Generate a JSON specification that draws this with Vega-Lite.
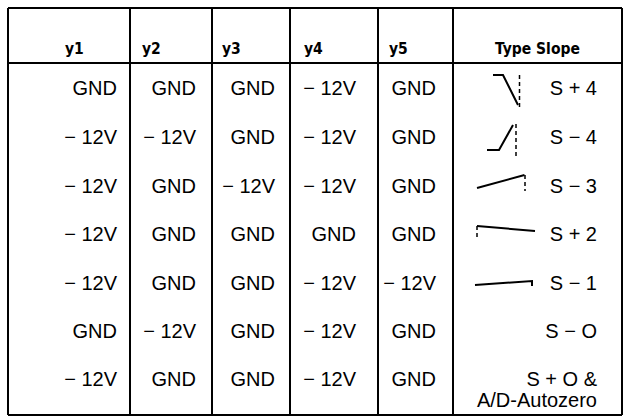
{
  "$schema": "https://vega.github.io/schema/vega-lite/v6.json",
  "width": 630,
  "height": 417,
  "padding": 0,
  "autosize": {"type": "none"},
  "background": "white",
  "config": {"view": {"stroke": null}},
  "datasets": {
    "lines": [
      {"x1": 8, "x2": 622, "y1": 8, "y2": 8},
      {"x1": 8, "x2": 622, "y1": 63, "y2": 63},
      {"x1": 8, "x2": 622, "y1": 415, "y2": 415},
      {"x1": 8, "x2": 8, "y1": 8, "y2": 415},
      {"x1": 130, "x2": 130, "y1": 8, "y2": 415},
      {"x1": 212, "x2": 212, "y1": 8, "y2": 415},
      {"x1": 290, "x2": 290, "y1": 8, "y2": 415},
      {"x1": 378, "x2": 378, "y1": 8, "y2": 415},
      {"x1": 453, "x2": 453, "y1": 8, "y2": 415},
      {"x1": 622, "x2": 622, "y1": 8, "y2": 415}
    ],
    "columns": [
      {"col": "y1", "tx": 117, "hx": 65},
      {"col": "y2", "tx": 196, "hx": 142},
      {"col": "y3", "tx": 275, "hx": 222},
      {"col": "y4", "tx": 356, "hx": 304},
      {"col": "y5", "tx": 436, "hx": 389},
      {"col": "Type Slope", "tx": 597, "hx": 495}
    ],
    "rows": [
      {"row": 1, "base": 95},
      {"row": 2, "base": 143.5},
      {"row": 3, "base": 192.5},
      {"row": 4, "base": 241},
      {"row": 5, "base": 289.5},
      {"row": 6, "base": 338},
      {"row": 7, "base": 386}
    ],
    "cells": [
      {"row": 1, "col": "y1", "text": "GND"},
      {"row": 1, "col": "y2", "text": "GND"},
      {"row": 1, "col": "y3", "text": "GND"},
      {"row": 1, "col": "y4", "text": "− 12V"},
      {"row": 1, "col": "y5", "text": "GND"},
      {"row": 1, "col": "Type Slope", "text": "S + 4"},
      {"row": 2, "col": "y1", "text": "− 12V"},
      {"row": 2, "col": "y2", "text": "− 12V"},
      {"row": 2, "col": "y3", "text": "GND"},
      {"row": 2, "col": "y4", "text": "− 12V"},
      {"row": 2, "col": "y5", "text": "GND"},
      {"row": 2, "col": "Type Slope", "text": "S − 4"},
      {"row": 3, "col": "y1", "text": "− 12V"},
      {"row": 3, "col": "y2", "text": "GND"},
      {"row": 3, "col": "y3", "text": "− 12V"},
      {"row": 3, "col": "y4", "text": "− 12V"},
      {"row": 3, "col": "y5", "text": "GND"},
      {"row": 3, "col": "Type Slope", "text": "S − 3"},
      {"row": 4, "col": "y1", "text": "− 12V"},
      {"row": 4, "col": "y2", "text": "GND"},
      {"row": 4, "col": "y3", "text": "GND"},
      {"row": 4, "col": "y4", "text": "GND"},
      {"row": 4, "col": "y5", "text": "GND"},
      {"row": 4, "col": "Type Slope", "text": "S + 2"},
      {"row": 5, "col": "y1", "text": "− 12V"},
      {"row": 5, "col": "y2", "text": "GND"},
      {"row": 5, "col": "y3", "text": "GND"},
      {"row": 5, "col": "y4", "text": "− 12V"},
      {"row": 5, "col": "y5", "text": "− 12V"},
      {"row": 5, "col": "Type Slope", "text": "S − 1"},
      {"row": 6, "col": "y1", "text": "GND"},
      {"row": 6, "col": "y2", "text": "− 12V"},
      {"row": 6, "col": "y3", "text": "GND"},
      {"row": 6, "col": "y4", "text": "− 12V"},
      {"row": 6, "col": "y5", "text": "GND"},
      {"row": 6, "col": "Type Slope", "text": "S − O"},
      {"row": 7, "col": "y1", "text": "− 12V"},
      {"row": 7, "col": "y2", "text": "GND"},
      {"row": 7, "col": "y3", "text": "GND"},
      {"row": 7, "col": "y4", "text": "− 12V"},
      {"row": 7, "col": "y5", "text": "GND"},
      {"row": 7, "col": "Type Slope", "text": ["S + O &", "A/D-Autozero"]}
    ],
    "glyphs": [
      {"g": "S+4", "kind": "slope", "o": 1, "x": 493, "y": 75},
      {"g": "S+4", "kind": "slope", "o": 2, "x": 503, "y": 75},
      {"g": "S+4", "kind": "slope", "o": 3, "x": 518, "y": 105},
      {"g": "S+4", "kind": "marker", "o": 1, "x": 519.5, "y": 75},
      {"g": "S+4", "kind": "marker", "o": 2, "x": 519.5, "y": 107},
      {"g": "S-4", "kind": "slope", "o": 1, "x": 487, "y": 150},
      {"g": "S-4", "kind": "slope", "o": 2, "x": 499, "y": 150},
      {"g": "S-4", "kind": "slope", "o": 3, "x": 513, "y": 125},
      {"g": "S-4", "kind": "marker", "o": 1, "x": 516, "y": 124},
      {"g": "S-4", "kind": "marker", "o": 2, "x": 516, "y": 156},
      {"g": "S-3", "kind": "slope", "o": 1, "x": 477, "y": 188},
      {"g": "S-3", "kind": "slope", "o": 2, "x": 524.5, "y": 175},
      {"g": "S-3", "kind": "marker", "o": 1, "x": 525, "y": 175},
      {"g": "S-3", "kind": "marker", "o": 2, "x": 525, "y": 191},
      {"g": "S+2", "kind": "slope", "o": 1, "x": 477, "y": 226},
      {"g": "S+2", "kind": "slope", "o": 2, "x": 535, "y": 231},
      {"g": "S+2", "kind": "marker", "o": 1, "x": 477, "y": 226},
      {"g": "S+2", "kind": "marker", "o": 2, "x": 477, "y": 239},
      {"g": "S-1", "kind": "slope", "o": 1, "x": 475, "y": 285},
      {"g": "S-1", "kind": "slope", "o": 2, "x": 532, "y": 281},
      {"g": "S-1", "kind": "slope", "o": 3, "x": 532, "y": 286}
    ]
  },
  "layer": [
    {
      "data": {"name": "lines"},
      "mark": {"type": "rule", "color": "black", "strokeWidth": 2},
      "encoding": {
        "x": {"field": "x1", "type": "quantitative", "scale": {"domain": [0, 630], "nice": false, "zero": false}, "axis": null},
        "x2": {"field": "x2"},
        "y": {"field": "y1", "type": "quantitative", "scale": {"domain": [0, 417], "nice": false, "zero": false, "reverse": true}, "axis": null},
        "y2": {"field": "y2"}
      }
    },
    {
      "data": {"name": "columns"},
      "mark": {"type": "text", "align": "left", "baseline": "alphabetic", "font": "DejaVu Sans Condensed, Liberation Sans Narrow, Liberation Sans", "fontWeight": "bold", "fontSize": 15.5, "color": "black"},
      "encoding": {
        "x": {"field": "hx", "type": "quantitative"},
        "y": {"datum": 54, "type": "quantitative"},
        "text": {"field": "col"}
      }
    },
    {
      "data": {"name": "cells"},
      "transform": [
        {"lookup": "col", "from": {"data": {"name": "columns"}, "key": "col", "fields": ["tx"]}},
        {"lookup": "row", "from": {"data": {"name": "rows"}, "key": "row", "fields": ["base"]}}
      ],
      "mark": {"type": "text", "align": "right", "baseline": "alphabetic", "font": "Liberation Sans", "fontSize": 20, "lineHeight": 21, "color": "black"},
      "encoding": {
        "x": {"field": "tx", "type": "quantitative"},
        "y": {"field": "base", "type": "quantitative"},
        "text": {"field": "text"}
      }
    },
    {
      "data": {"name": "glyphs"},
      "transform": [{"filter": "datum.kind === 'slope'"}],
      "mark": {"type": "line", "color": "black", "strokeWidth": 2, "strokeJoin": "miter"},
      "encoding": {
        "x": {"field": "x", "type": "quantitative"},
        "y": {"field": "y", "type": "quantitative"},
        "detail": {"field": "g"},
        "order": {"field": "o", "type": "quantitative"}
      }
    },
    {
      "data": {"name": "glyphs"},
      "transform": [{"filter": "datum.kind === 'marker'"}],
      "mark": {"type": "line", "color": "black", "strokeWidth": 1.5, "strokeDash": [4, 3]},
      "encoding": {
        "x": {"field": "x", "type": "quantitative"},
        "y": {"field": "y", "type": "quantitative"},
        "detail": {"field": "g"},
        "order": {"field": "o", "type": "quantitative"}
      }
    }
  ]
}
